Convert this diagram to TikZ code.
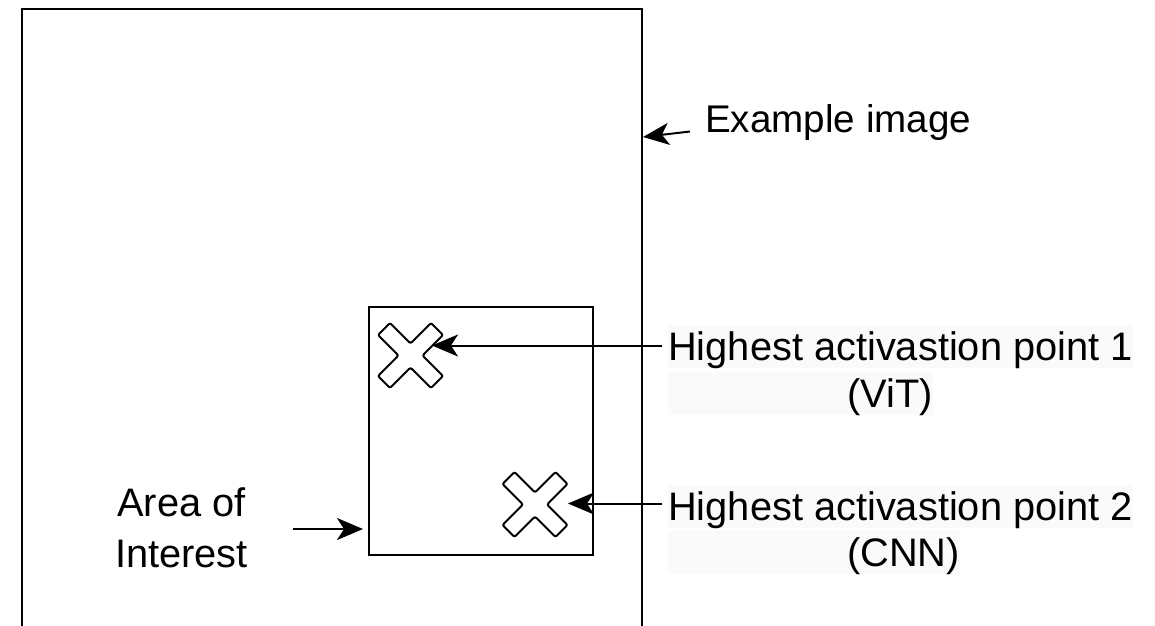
\documentclass[tikz,border=0pt]{standalone}
\usepackage{fontspec}
\setmainfont{Liberation Sans}
\usetikzlibrary{arrows.meta}
\definecolor{hl}{RGB}{250,250,250}
\begin{document}
\begin{tikzpicture}[x=1pt,y=-1pt,
  frame/.style={draw=black,line width=2pt},
  arr/.style={draw=black,line width=2pt,-{Stealth[length=26pt,width=22pt,inset=7pt]}},
  lbl/.style={font=\fontsize{39.8}{46}\selectfont,inner sep=0pt,text height=35.5pt,text depth=8pt},
  hlbl/.style={lbl,fill=hl},
  xmark/.pic={\draw[line width=2pt,rounded corners=2pt,rotate=45]
     (-8.5,-37.5) -- (8.5,-37.5) -- (8.5,-8.5) -- (37.5,-8.5) -- (37.5,8.5) -- (8.5,8.5)
     -- (8.5,37.5) -- (-8.5,37.5) -- (-8.5,8.5) -- (-37.5,8.5) -- (-37.5,-8.5) -- (-8.5,-8.5) -- cycle;},
]
\useasboundingbox (0,0) rectangle (1155,625);
\clip (0,0) rectangle (1155,625);
% example image frame (continues below the picture)
\node[frame,inner sep=0pt,minimum width=620pt,minimum height=700pt,anchor=north west] (img) at (21,8) {};
% area of interest
\node[frame,inner sep=0pt,minimum width=224pt,minimum height=248pt,anchor=north west] (aoi) at (368,306) {};
% activation points
\pic at (410.5,355.5) {xmark};
\pic at (535,504.5) {xmark};
\coordinate (x1tip) at (432,345.5);
\coordinate (x2tip) at (568,503.5);
% labels
\node[hlbl,anchor=base west] (hl1a) at (668,360) {Highest activastion point 1};
\node[hlbl,anchor=base west] (hl1b) at (668,407) {\hspace*{179pt}(ViT)};
\node[hlbl,anchor=base west] (hl2a) at (668,520) {Highest activastion point 2};
\node[hlbl,anchor=base west] (hl2b) at (668,566) {\hspace*{179pt}(CNN)};
\node[lbl,font=\fontsize{38.6}{46}\selectfont,anchor=base west] (ex) at (705,132) {Example image};
\node[lbl,anchor=base] (area1) at (181.5,516.5) {Area of};
\node[lbl,anchor=base] (area2) at (181.5,567) {Interest};
% connectors
\path ([xshift=-6pt]hl1a.west) coordinate (s1);
\path ([xshift=-6pt]hl2a.west) coordinate (s2);
\draw[arr] (s1 |- x1tip) -- (x1tip);
\draw[arr] (s2 |- x2tip) -- (x2tip);
\coordinate (exS) at (690,131.5);
\draw[arr] (exS) -- (img.east |- 0,137);
\coordinate (aoiS) at (293,529);
\draw[arr,shorten >=5pt] (aoiS) -- (aoi.west |- aoiS);
\end{tikzpicture}
\end{document}
